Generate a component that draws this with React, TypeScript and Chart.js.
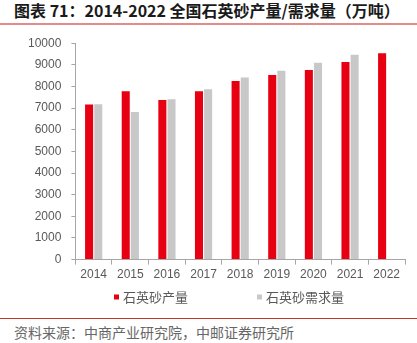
import React, { useEffect, useRef } from "react";
import { Chart, registerables } from "chart.js";

Chart.register(...registerables);

const categories = ["2014", "2015", "2016", "2017", "2018", "2019", "2020", "2021", "2022"];
const productionLabel = "石英砂产量";
const demandLabel = "石英砂需求量";
const production = [7170, 7780, 7370, 7780, 8250, 8530, 8760, 9130, 9530];
const demand: (number | null)[] = [7180, 6815, 7410, 7870, 8420, 8730, 9100, 9470, null];
const titleText = "图表 71：2014-2022 全国石英砂产量/需求量（万吨）";
const sourceText = "资料来源：中商产业研究院，中邮证券研究所";

const CANVAS_TOP = 26;
const CANVAS_H = 286;

const legendPlugin = {
  id: "customLegend",
  afterDraw(chart: any) {
    const ctx = chart.ctx;
    ctx.save();
    ctx.font = '13px "Noto Sans CJK SC"';
    ctx.textBaseline = "middle";
    ctx.textAlign = "left";
    const box = 5;
    const gapText = 4;
    const gapItem = 69;
    const items = chart.data.datasets.map((ds: any) => ({
      label: ds.label,
      color: ds.backgroundColor,
      w: box + gapText + ctx.measureText(ds.label).width,
    }));
    const total = items.reduce((s: number, it: any) => s + it.w, 0) + gapItem * (items.length - 1);
    const center = 229;
    let x = center - total / 2;
    const y = 297 - CANVAS_TOP;
    items.forEach((it: any) => {
      ctx.fillStyle = it.color;
      ctx.fillRect(x, y - box / 2, box, box);
      ctx.fillStyle = "#595959";
      ctx.fillText(it.label, x + box + gapText, y + 0.5);
      x += it.w + gapItem;
    });
    ctx.restore();
  },
};

export default function App() {
  const ref = useRef<HTMLCanvasElement | null>(null);
  useEffect(() => {
    if (!ref.current) return;
    const chart = new Chart(ref.current, {
      type: "bar",
      data: {
        labels: categories,
        datasets: [
          {
            label: productionLabel,
            data: production,
            backgroundColor: "#e60012",
            categoryPercentage: 0.5,
            barPercentage: 0.88,
          },
          {
            label: demandLabel,
            data: demand,
            backgroundColor: "#c8c8c8",
            categoryPercentage: 0.5,
            barPercentage: 0.88,
          },
        ],
      },
      options: {
        responsive: false,
        animation: false,
        maintainAspectRatio: false,
        layout: { padding: { left: 18, right: 12, top: 7, bottom: 27 } },
        plugins: {
          legend: { display: false },
          tooltip: { enabled: false },
          title: { display: false },
        },
        scales: {
          x: {
            grid: {
              display: true,
              offset: true,
              drawOnChartArea: false,
              drawTicks: true,
              tickLength: 5,
              color: "#a6a6a6",
            },
            border: { color: "#a6a6a6" },
            ticks: {
              color: "#595959",
              font: { family: "Liberation Sans", size: 12 },
              padding: 3,
            },
          },
          y: {
            min: 0,
            max: 10000,
            ticks: {
              stepSize: 1000,
              color: "#595959",
              font: { family: "Liberation Sans", size: 12 },
              padding: 10,
              callback: (v: any) => String(v),
            },
            grid: {
              display: true,
              drawOnChartArea: false,
              drawTicks: true,
              tickLength: 4,
              color: "#a6a6a6",
            },
            border: { color: "#a6a6a6" },
          },
        },
      },
      plugins: [legendPlugin],
    });
    return () => chart.destroy();
  }, []);

  return (
    <div
      style={{
        position: "fixed",
        left: 0,
        top: 0,
        width: 417,
        height: 343,
        background: "#fff",
        overflow: "hidden",
      }}
    >
      <div
        style={{
          position: "absolute",
          left: 14,
          top: 0,
          lineHeight: "20px",
          fontSize: 16,
          fontWeight: "bold",
          fontFamily: '"Noto Sans CJK SC"',
          color: "#1a1a1a",
          whiteSpace: "nowrap",
        }}
      >
        {titleText}
      </div>
      <div
        style={{
          position: "absolute",
          left: 0,
          top: 23,
          width: 417,
          height: 2,
          background: "#e38b8b",
        }}
      />
      <canvas
        ref={ref}
        width={417}
        height={CANVAS_H}
        style={{ position: "absolute", left: 0, top: CANVAS_TOP, width: 417, height: CANVAS_H }}
      />
      <div
        style={{
          position: "absolute",
          left: 0,
          top: 318,
          width: 417,
          height: 1,
          background: "#c0392b",
        }}
      />
      <div
        style={{
          position: "absolute",
          left: 14,
          top: 323,
          lineHeight: "18px",
          fontSize: 14,
          fontFamily: '"Noto Sans CJK SC"',
          color: "#666",
          whiteSpace: "nowrap",
        }}
      >
        {sourceText}
      </div>
    </div>
  );
}
